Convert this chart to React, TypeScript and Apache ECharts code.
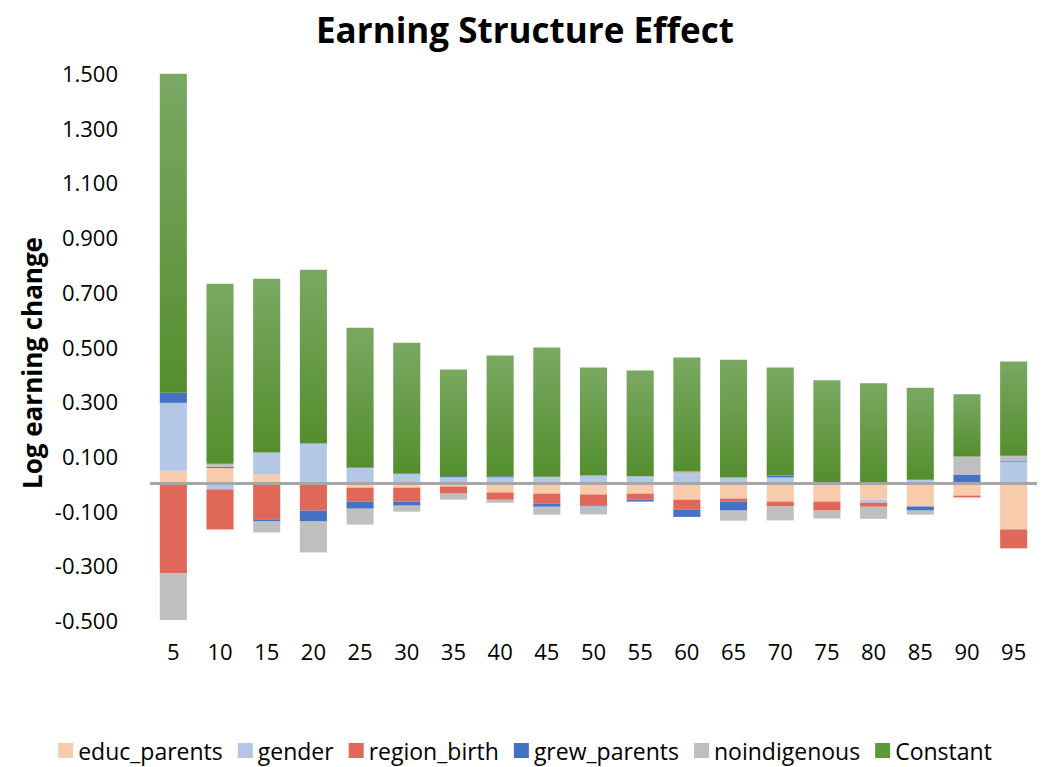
import React, { useEffect, useRef } from "react";
import * as echarts from "echarts";

const categories = ["5", "10", "15", "20", "25", "30", "35", "40", "45", "50", "55", "60", "65", "70", "75", "80", "85", "90", "95"];
const educParents = [0.046, 0.056, 0.032, 0, -0.016, -0.016, -0.012, -0.034, -0.038, -0.041, -0.038, -0.060, -0.056, -0.067, -0.067, -0.060, -0.085, -0.045, -0.169];
const gender = [0.248, -0.023, 0.080, 0.145, 0.057, 0.035, 0.022, 0.022, 0.024, 0.028, 0.026, 0.033, 0.021, 0.021, 0, -0.011, 0.013, 0.004, 0.079];
const regionBirth = [-0.330, -0.146, -0.133, -0.100, -0.051, -0.051, -0.026, -0.026, -0.037, -0.040, -0.022, -0.037, -0.011, -0.018, -0.033, -0.015, 0, -0.007, -0.069];
const grewParents = [0.037, 0.004, -0.007, -0.040, -0.026, -0.015, 0.004, 0.004, -0.011, -0.004, -0.007, -0.026, -0.033, 0.007, 0.008, 0, -0.015, 0.028, 0.004];
const noindigenous = [-0.178, 0.011, -0.040, -0.113, -0.058, -0.022, -0.022, -0.011, -0.029, -0.029, 0, 0.010, -0.037, -0.051, -0.029, -0.044, -0.015, 0.066, 0.018];
const constant = [1.166, 0.658, 0.636, 0.636, 0.512, 0.479, 0.390, 0.441, 0.472, 0.395, 0.386, 0.417, 0.431, 0.395, 0.369, 0.366, 0.336, 0.227, 0.344];

const FONT = "'Open Sans', sans-serif";

export default function App() {
  const ref = useRef<HTMLDivElement>(null);
  useEffect(() => {
    if (!ref.current) return;
    const chart = echarts.init(ref.current, null, { renderer: "svg" });
    const mk = (name: string, data: number[], color: any) => ({
      name,
      type: "bar",
      stack: "total",
      data,
      barCategoryGap: "42%",
      itemStyle: { color },
    });
    const green = new echarts.graphic.LinearGradient(0, 0, 0, 1, [
      { offset: 0, color: "#7aa862" },
      { offset: 1, color: "#548e2e" },
    ]);
    const constantSeries: any = mk("Constant", constant, green);
    constantSeries.markLine = {
      silent: true,
      symbol: "none",
      label: { show: false },
      lineStyle: { color: "#a6a6a6", width: 3, type: "solid" },
      data: [{ yAxis: 0 }],
    };
    chart.setOption({
      animation: false,
      textStyle: { fontFamily: FONT },
      title: {
        text: "Earning Structure Effect",
        left: "center",
        top: 7,
        textStyle: { fontFamily: FONT, fontSize: 35, fontWeight: "bold", color: "#000" },
      },
      grid: { left: 150, right: 13, top: 73, bottom: 147, containLabel: false },
      legend: {
        top: 734,
        left: "center",
        itemWidth: 15,
        itemHeight: 15,
        itemGap: 15,
        icon: "rect",
        textStyle: { fontFamily: FONT, fontSize: 23, lineHeight: 23, color: "#000" },
        data: ["educ_parents", "gender", "region_birth", "grew_parents", "noindigenous", { name: "Constant", itemStyle: { color: "#5b9a38" } }],
      },
      xAxis: {
        type: "category",
        data: categories,
        axisLine: { show: false, onZero: false },
        axisTick: { show: false },
        axisLabel: { fontFamily: FONT, fontSize: 22, color: "#000", margin: 20 },
      },
      yAxis: {
        type: "value",
        min: -0.5,
        max: 1.5,
        interval: 0.2,
        splitLine: { show: false },
        axisLine: { show: false },
        axisTick: { show: false },
        axisLabel: {
          fontFamily: FONT,
          fontSize: 22,
          color: "#000",
          margin: 32,
          formatter: (v: number) => v.toFixed(3),
        },
      },
      graphic: [
        {
          type: "text",
          x: 32,
          y: 363,
          rotation: Math.PI / 2,
          style: {
            text: "Log earning change",
            fontFamily: FONT,
            fontSize: 26,
            fontWeight: "bold",
            fill: "#000",
            textAlign: "center",
            textVerticalAlign: "middle",
          },
        },
      ],
      series: [
        mk("educ_parents", educParents, "#f8cbad"),
        mk("gender", gender, "#b4c7e7"),
        mk("region_birth", regionBirth, "#e16859"),
        mk("grew_parents", grewParents, "#4472c4"),
        mk("noindigenous", noindigenous, "#bfbfbf"),
        constantSeries,
      ],
    });
    return () => chart.dispose();
  }, []);
  return <div ref={ref} style={{ position: "absolute", left: 0, top: 0, width: 1050, height: 767 }} />;
}
